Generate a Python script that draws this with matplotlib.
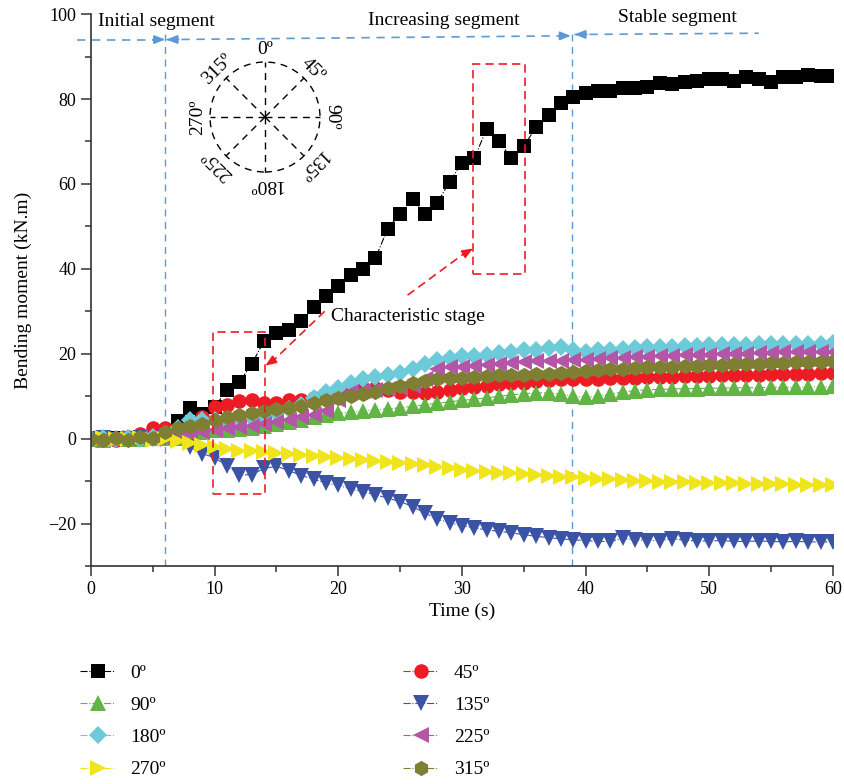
import matplotlib
matplotlib.use('Agg')
import matplotlib.pyplot as plt
import numpy as np
from matplotlib.patches import Rectangle, Circle

plt.rcParams['font.family'] = ['Liberation Serif', 'DejaVu Serif']
plt.rcParams['font.size'] = 13

# time axis, one sample per second
t = np.arange(0, 61)

m0 = [0, -0.2, 0.2, 0, 0.3, 0.5, 1.5, 4.2, 7.3, 5.9,
      7.5, 11.5, 13.3, 17.6, 23, 25, 25.7, 27.6, 31, 33.5,
      36, 38.5, 40, 42.5, 49.5, 53, 56.5, 53, 55.5, 60.5,
      65, 66, 73, 70, 66, 69, 73.3, 76.2, 79, 80.4,
      81.4, 81.8, 81.8, 82.5, 82.5, 82.8, 83.7, 83.5, 84, 84.2,
      84.6, 84.6, 84.2, 85.2, 84.6, 84, 85.2, 85.2, 85.6, 85.4, 85.4]
m45 = [0, 0.2, -0.2, 0.3, 1.0, 2.5, 2.5, 2.0, 3.0, 5.0,
       7.5, 8.0, 8.8, 9.0, 8.5, 8.5, 9.0, 9.0, 9.5, 10.0,
       10.5, 11.5, 12.0, 12.0, 11.5, 11.0, 11.0, 10.8, 11.0, 11.5,
       12.0, 12.2, 12.5, 12.8, 13.0, 13.2, 13.5, 13.8, 14.0, 14.0,
       14.0, 14.1, 14.2, 14.3, 14.4, 14.5, 14.6, 14.6, 14.7, 14.8,
       14.8, 14.9, 15.0, 15.0, 15.1, 15.2, 15.2, 15.3, 15.3, 15.4, 15.5]
m90 = [0, -0.2, 0.1, 0, -0.1, 0.2, 0.1, 0.2, 0.5, 1.5,
       2.0, 2.0, 2.2, 2.5, 3.0, 3.5, 4.0, 4.5, 5.0, 5.5,
       6.0, 6.2, 6.5, 6.8, 7.0, 7.3, 7.6, 8.0, 8.3, 8.7,
       9.0, 9.3, 9.6, 10.0, 10.3, 10.6, 10.8, 10.8, 10.5, 10.0,
       9.8, 10.0, 10.5, 11.0, 11.3, 11.5, 11.6, 11.7, 11.8, 11.8,
       11.9, 11.9, 12.0, 12.0, 12.0, 12.1, 12.1, 12.1, 12.2, 12.2, 12.3]
m135 = [0, 0.1, -0.2, 0, 0.2, -0.1, 0.3, 0.2, -2.0, -3.5,
        -4.5, -6.5, -8.5, -8.5, -7.0, -6.5, -7.5, -8.7, -9.5, -10.5,
        -11.0, -11.8, -12.5, -13.2, -14.0, -14.8, -16.0, -17.5, -19.0, -19.8,
        -20.5, -21.0, -21.5, -21.8, -22.2, -22.6, -23.0, -23.3, -23.6, -23.8,
        -24.0, -24.2, -24.2, -23.5, -23.8, -24.0, -24.0, -23.6, -23.9, -24.1,
        -24.1, -24.0, -24.2, -24.2, -24.1, -24.2, -24.3, -24.2, -24.3, -24.3, -24.3]
m180 = [0, 0.1, -0.1, 0.2, 0, 0.3, 1.0, 2.5, 4.5, 4.5,
        4.5, 4.5, 4.5, 4.8, 5.0, 6.0, 7.0, 8.0, 9.5, 11.0,
        12.0, 13.0, 14.0, 14.5, 15.0, 15.5, 16.5, 17.5, 18.5, 19.0,
        19.5, 19.5, 19.8, 20.2, 20.5, 20.8, 21.0, 21.3, 21.5, 21.0,
        20.5, 20.8, 21.0, 21.2, 21.3, 21.5, 21.6, 21.7, 21.8, 21.9,
        22.0, 22.0, 22.1, 22.1, 22.2, 22.2, 22.3, 22.3, 22.4, 22.4, 22.5]
m225 = [0, -0.1, 0.1, 0, 0.2, -0.1, 0.1, 0.3, 1.0, 1.5,
        2.0, 2.5, 2.8, 3.0, 3.5, 4.0, 4.5, 5.0, 5.5, 6.5,
        9.0, 11.0, 11.3, 11.5, 11.8, 12.0, 12.5, 14.0, 16.5, 16.8,
        17.0, 17.2, 17.4, 17.6, 17.8, 18.0, 18.2, 18.3, 18.4, 18.5,
        18.5, 18.7, 18.9, 19.0, 19.2, 19.3, 19.4, 19.5, 19.6, 19.7,
        19.8, 19.9, 20.0, 20.0, 20.1, 20.2, 20.3, 20.3, 20.4, 20.4, 20.5]
m270 = [0, 0.1, -0.1, 0, 0.1, -0.2, 0, -0.5, -1.0, -1.5,
        -2.0, -2.5, -2.8, -3.0, -3.2, -3.3, -3.5, -3.8, -4.0, -4.2,
        -4.5, -4.7, -5.0, -5.3, -5.5, -5.8, -6.0, -6.3, -6.6, -7.0,
        -7.3, -7.5, -7.8, -8.0, -8.2, -8.4, -8.6, -8.8, -9.0, -9.0,
        -9.3, -9.5, -9.6, -9.8, -9.9, -10.0, -10.1, -10.2, -10.3, -10.4,
        -10.4, -10.5, -10.5, -10.6, -10.6, -10.7, -10.7, -10.8, -10.8, -10.9, -11.0]
m315 = [0, -0.3, 0.2, -0.2, 0.3, 0.1, 1.5, 2.5, 3.0, 3.5,
        4.5, 5.0, 5.5, 6.0, 6.5, 7.0, 7.3, 7.6, 8.5, 9.0,
        9.5, 10.0, 10.5, 11.0, 12.0, 12.5, 13.0, 13.5, 14.0, 14.2,
        14.4, 14.6, 14.8, 14.9, 15.0, 15.1, 15.2, 15.3, 15.5, 15.6,
        16.0, 16.1, 16.3, 16.5, 16.6, 16.8, 16.9, 17.0, 17.1, 17.2,
        17.3, 17.4, 17.5, 17.6, 17.7, 17.8, 17.9, 18.0, 18.0, 18.1, 18.2]

labels = ['0º', '45º', '90º', '135º', '180º', '225º', '270º', '315º']
series = [m0, m45, m90, m135, m180, m225, m270, m315]
colors = ['#000000', '#ED1C24', '#62B445', '#3A53A4', '#6CCAD9',
          '#B456A7', '#F0E51C', '#7F7F33']
markers = ['s', 'o', '^', 'v', 'D', '<', '>', 'h']
msizes = [9.5, 10.5, 11.5, 11.5, 9, 11.5, 11.5, 11]

fig = plt.figure(figsize=(8.45, 7.84), dpi=100)
ax = fig.add_axes([0.1077, 0.278, 0.878, 0.704])

handles = {}
for lab, y, c, mk, ms in zip(labels, series, colors, markers, msizes):
    h, = ax.plot(t, y, linestyle='-.', lw=0.8, color=c, marker=mk,
                 markersize=ms, markeredgewidth=0, label=lab)
    handles[lab] = h

ax.set_xlim(0, 60)
ax.set_ylim(-30, 100)
ax.set_xticks(np.arange(0, 61, 10))
ax.set_xticks(np.arange(0, 61, 5), minor=True)
ax.set_yticks(np.arange(-20, 101, 20))
ax.set_yticks(np.arange(-30, 101, 10), minor=True)
ax.set_yticklabels(['\u221220', '0', '20', '40', '60', '80', '100'])
ax.tick_params(direction='out', length=7, width=1.1, color='#333333',
               labelsize=13)
ax.tick_params(which='minor', direction='out', length=4, width=1.1,
               color='#333333')
for s in ['top', 'right']:
    ax.spines[s].set_visible(False)
for s in ['left', 'bottom']:
    ax.spines[s].set_linewidth(1.2)
    ax.spines[s].set_color('#333333')
ax.set_xlabel('Time (s)', fontsize=14, labelpad=4)
ax.set_ylabel('Bending moment (kN.m)', fontsize=14, labelpad=12)

# segment markers
seg_c = '#5B9BD5'
for xv, ytop in [(6.0, 95.5), (38.9, 96.5)]:
    ax.plot([xv, xv], [-30, ytop], ls=(0, (5, 4)), lw=1.0, color=seg_c,
            zorder=1)
ax.plot([-1.1, 5.9], [94.0, 94.0], ls=(0, (5, 4)), lw=1.2, color=seg_c,
        clip_on=False)
ax.plot([6.1, 38.8], [94.0, 94.9], ls=(0, (5, 4)), lw=1.2, color=seg_c)
ax.plot([39.1, 54.0], [95.2, 95.5], ls=(0, (5, 4)), lw=1.2, color=seg_c)
arw = dict(arrowstyle='-|>,head_length=0.5,head_width=0.2', color=seg_c,
           lw=1.2, shrinkA=0, shrinkB=0)
ax.annotate('', xy=(6.0, 94.0), xytext=(5.0, 94.0), arrowprops=arw)
ax.annotate('', xy=(6.1, 94.0), xytext=(7.1, 94.03), arrowprops=arw)
ax.annotate('', xy=(38.8, 94.9), xytext=(37.8, 94.87), arrowprops=arw)
ax.annotate('', xy=(39.1, 95.2), xytext=(40.1, 95.22), arrowprops=arw)
ax.text(0.6, 98.3, 'Initial segment', fontsize=14, ha='left', va='center')
ax.text(28.5, 98.6, 'Increasing segment', fontsize=14, ha='center',
        va='center')
ax.text(47.4, 99.3, 'Stable segment', fontsize=14, ha='center', va='center')

# characteristic stage boxes
red = '#ED1C24'
ax.add_patch(Rectangle((9.9, -13.0), 4.2, 38.2, fill=False, ec=red,
                       lw=1.2, ls=(0, (5, 3)), zorder=5))
ax.add_patch(Rectangle((30.9, 38.9), 4.2, 49.3, fill=False, ec=red,
                       lw=1.2, ls=(0, (5, 3)), zorder=5))
ax.text(25.6, 28.8, 'Characteristic stage', fontsize=14, ha='center',
        va='center', zorder=6)
ax.plot([18.9, 14.6], [30.0, 18.0], ls=(0, (5, 3)), lw=1.2, color=red,
        zorder=6)
ax.plot([25.6, 30.5], [33.8, 44.3], ls=(0, (5, 3)), lw=1.2, color=red,
        zorder=6)
rarw = dict(arrowstyle='-|>,head_length=0.5,head_width=0.2', color=red,
            lw=1.2, shrinkA=0, shrinkB=0)
ax.annotate('', xy=(14.1, 17.2), xytext=(14.8, 18.6), arrowprops=rarw)
ax.annotate('', xy=(30.9, 44.8), xytext=(30.2, 43.6), arrowprops=rarw)

# direction sketch
W, H = 845, 784
cx, cy, half = 265, 117, 85
iax = fig.add_axes([(cx - half) / W, 1 - (cy + half) / H,
                    2 * half / W, 2 * half / H])
iax.set_xlim(-half, half)
iax.set_ylim(-half, half)
iax.set_aspect('equal')
iax.axis('off')
iax.patch.set_alpha(0)
R = 55
iax.add_patch(Circle((0, 0), R, fill=False, ec='black', lw=1.0,
                     ls=(0, (5, 4))))
for i, ang in enumerate([0, 45, 90, 135, 180, 225, 270, 315]):
    th = np.deg2rad(90 - ang)
    iax.plot([0, R * np.cos(th)], [0, R * np.sin(th)], color='black',
             lw=1.0, ls=(0, (5, 4)))
    iax.text(67 * np.cos(th), 67 * np.sin(th), labels[i], fontsize=14,
             rotation=-ang, ha='center', va='center',
             rotation_mode='anchor')

order = ['0º', '90º', '180º', '270º', '45º', '135º', '225º', '315º']
fig.legend([handles[k] for k in order], order, loc='upper left',
           bbox_to_anchor=(0.074, 0.175), ncol=2, frameon=False,
           fontsize=14, handlelength=1.8, labelspacing=0.75,
           columnspacing=12.2, handletextpad=0.8)

fig.savefig('out.png', dpi=100)
